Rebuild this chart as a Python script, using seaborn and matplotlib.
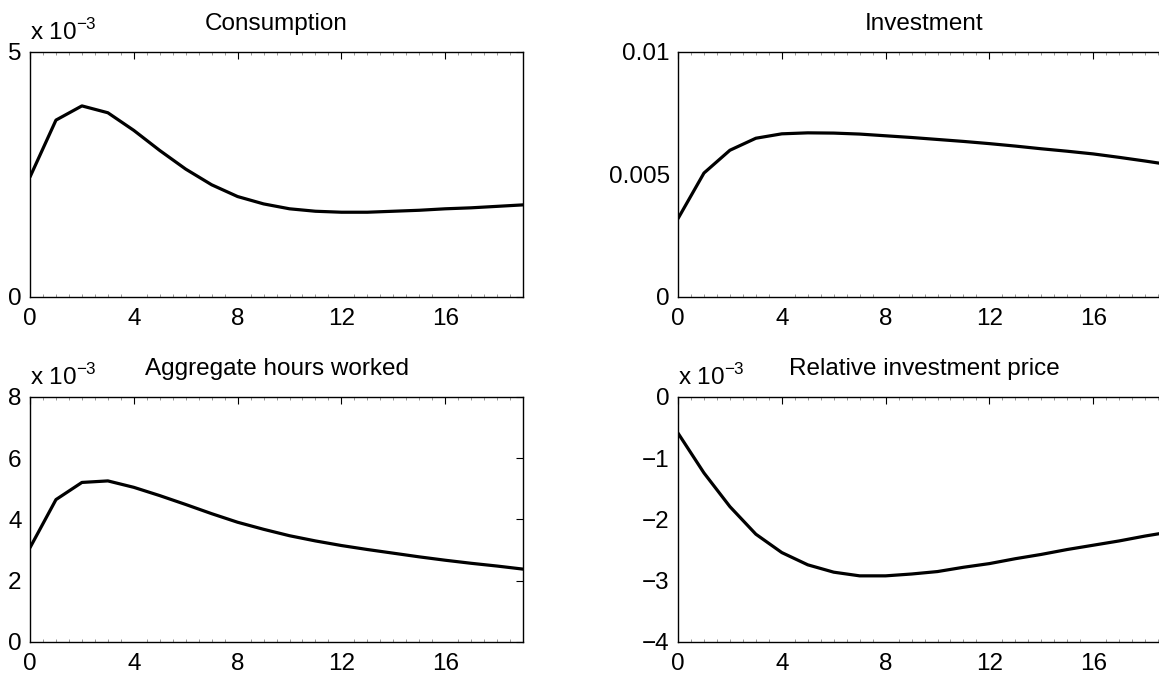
import matplotlib
matplotlib.use('Agg')
import matplotlib.pyplot as plt
import seaborn as sns
from matplotlib.ticker import MultipleLocator

# Квартали після шоку
periods = list(range(20))

# Значення у одиницях 1e-3 (крім інвестицій)
consumption = [2.45, 3.61, 3.90, 3.76, 3.40, 2.99, 2.61, 2.29, 2.05, 1.90,
               1.80, 1.75, 1.73, 1.73, 1.75, 1.77, 1.80, 1.82, 1.85, 1.88]
investment = [0.0032, 0.00506, 0.00599, 0.00648, 0.00666, 0.00670, 0.00669, 0.00665,
              0.00658, 0.00651, 0.00643, 0.00635, 0.00626, 0.00616, 0.00605, 0.00595,
              0.00584, 0.00570, 0.00555, 0.00539]
hours = [3.08, 4.65, 5.21, 5.26, 5.05, 4.78, 4.49, 4.19, 3.91, 3.68,
         3.47, 3.30, 3.15, 3.02, 2.90, 2.78, 2.67, 2.57, 2.48, 2.38]
rel_price = [-0.59, -1.24, -1.79, -2.24, -2.54, -2.74, -2.86, -2.92, -2.92, -2.89,
             -2.85, -2.78, -2.72, -2.64, -2.57, -2.49, -2.42, -2.35, -2.27, -2.20]

titles = ['Consumption', 'Investment', 'Aggregate hours worked', 'Relative investment price']
series = [consumption, investment, hours, rel_price]
ylims = [(0, 5), (0, 0.01), (0, 8), (-4, 0)]
yticks = [[0, 5], [0, 0.005, 0.01], [0, 2, 4, 6, 8], [-4, -3, -2, -1, 0]]
ytick_labels = [['0', '5'], ['0', '0.005', '0.01'], ['0', '2', '4', '6', '8'],
                ['\u22124', '\u22123', '\u22122', '\u22121', '0']]
scaled = [True, False, True, True]
xticks = [0, 4, 8, 12, 16]

sns.set_style('white')
plt.rcParams['font.family'] = ['Liberation Sans', 'DejaVu Sans']
plt.rcParams['mathtext.fontset'] = 'custom'
plt.rcParams['mathtext.rm'] = 'Liberation Sans'
plt.rcParams['text.color'] = 'black'

fig = plt.figure(figsize=(11.59, 6.77), dpi=100)

# Позиції осей (права колонка виходить за межі рисунка, як в оригіналі)
positions = [
    [0.0259, 0.5613, 0.4254, 0.3619],
    [0.5850, 0.5613, 0.4254, 0.3619],
    [0.0259, 0.0517, 0.4254, 0.3619],
    [0.5850, 0.0517, 0.4254, 0.3619],
]

fs = 17.5
for i in range(4):
    ax = fig.add_axes(positions[i])
    sns.lineplot(x=periods, y=series[i], ax=ax, color='black', linewidth=2.3)
    ax.set_xlim(0, 19)
    ax.set_ylim(*ylims[i])
    ax.set_xticks(xticks)
    ax.set_xticklabels([str(t) for t in xticks])
    ax.set_yticks(yticks[i])
    ax.set_yticklabels(ytick_labels[i])
    ax.xaxis.set_minor_locator(MultipleLocator(0.5))
    ax.tick_params(axis='both', which='major', direction='in', length=5, width=0.8,
                   top=True, right=True, labelsize=fs, colors='black')
    ax.tick_params(axis='x', which='major', pad=8)
    ax.tick_params(axis='y', which='major', pad=6)
    ax.tick_params(axis='x', which='minor', direction='in', length=2, width=0.6,
                   top=True, bottom=True, colors='#888888')
    for sp in ax.spines.values():
        sp.set_color('black')
        sp.set_linewidth(1.0)
    ax.set_title(titles[i], fontsize=fs, pad=16, color='black')
    if scaled[i]:
        ax.text(0, 1.05, r'x 10$^{-3}$', transform=ax.transAxes, fontsize=fs,
                ha='left', va='baseline', color='black')

fig.savefig('out.png', dpi=100)
